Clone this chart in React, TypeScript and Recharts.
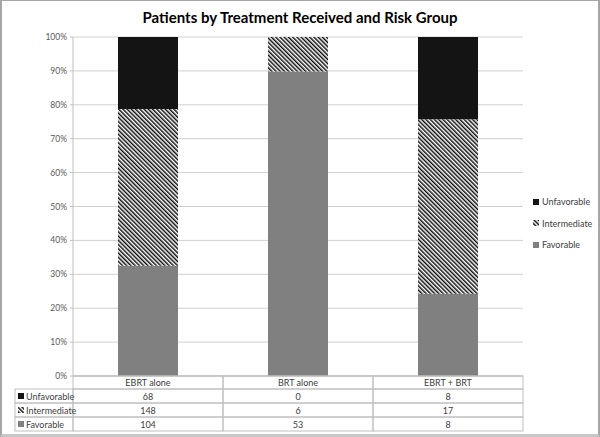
import React from 'react'
import { BarChart, Bar, XAxis, YAxis, CartesianGrid } from 'recharts'

const categories = ['EBRT alone', 'BRT alone', 'EBRT + BRT']
const unfavorable = [68, 0, 8]
const intermediate = [148, 6, 17]
const favorable = [104, 53, 8]
const yTicks = [0, 0.1, 0.2, 0.3, 0.4, 0.5, 0.6, 0.7, 0.8, 0.9, 1]

const seriesRows = [
  { key: 'unfavorable', name: 'Unfavorable', values: unfavorable, fill: '#141414' },
  { key: 'intermediate', name: 'Intermediate', values: intermediate, fill: 'url(#hatch)' },
  { key: 'favorable', name: 'Favorable', values: favorable, fill: '#808080' }
]

const data = categories.map((c, i) => ({
  name: c,
  favorable: favorable[i],
  intermediate: intermediate[i],
  unfavorable: unfavorable[i]
}))

const FONT = 'Lato, "Open Sans", sans-serif'
const BORDER = '#bfbfbf'
const TEXT = '#404040'
const COL_W = 150
const HEAD_H = 13
const ROW_H = 14
const LABEL_LEFT = 15

function TableTick(props: any) {
  const { x, y, payload } = props
  const i = categories.indexOf(payload.value)
  const left = x - COL_W / 2
  return (
    <g>
      <rect x={left} y={y} width={COL_W} height={HEAD_H} fill="none" stroke={BORDER} />
      <text x={x} y={y + 9.5} textAnchor="middle" fontSize={9} fill={TEXT} fontFamily={FONT}>
        {payload.value}
      </text>
      {seriesRows.map((s, r) => (
        <g key={s.key}>
          <rect x={left} y={y + HEAD_H + r * ROW_H} width={COL_W} height={ROW_H} fill="none" stroke={BORDER} />
          <text x={x} y={y + HEAD_H + r * ROW_H + 10.5} textAnchor="middle" fontSize={9} fill={TEXT} fontFamily={FONT}>
            {s.values[i]}
          </text>
        </g>
      ))}
      {i === 0 &&
        seriesRows.map((s, r) => (
          <g key={'lab' + s.key}>
            <rect
              x={LABEL_LEFT}
              y={y + HEAD_H + r * ROW_H}
              width={left - LABEL_LEFT}
              height={ROW_H}
              fill="none"
              stroke={BORDER}
            />
            <rect x={LABEL_LEFT + 3} y={y + HEAD_H + r * ROW_H + 4} width={6} height={6} fill={s.fill} />
            <text x={LABEL_LEFT + 11} y={y + HEAD_H + r * ROW_H + 10.5} fontSize={9} fill={TEXT} fontFamily={FONT}>
              {s.name}
            </text>
          </g>
        ))}
    </g>
  )
}

function LegendBox() {
  return (
    <div
      style={{
        position: 'absolute',
        left: 532,
        top: 191,
        fontFamily: FONT,
        fontSize: 9,
        color: TEXT
      }}
    >
      {seriesRows.map((s) => (
        <div key={s.key} style={{ display: 'flex', alignItems: 'center', height: 21.5 }}>
          <svg width={8} height={8} style={{ marginRight: 2 }}>
            <rect x={1} y={1} width={6} height={6} fill={s.fill} />
          </svg>
          <span>{s.name}</span>
        </div>
      ))}
    </div>
  )
}

export default function App() {
  return (
    <div style={{ position: 'absolute', left: 0, top: 0, width: 600, height: 437, background: '#fff' }}>
      <svg width={0} height={0} style={{ position: 'absolute' }}>
        <defs>
          <pattern id="hatch" width={3} height={3} patternUnits="userSpaceOnUse" patternTransform="rotate(-45)">
            <rect width={3} height={3} fill="#fff" />
            <line x1={0.75} y1={0} x2={0.75} y2={3} stroke="#000" strokeWidth={1.4} />
          </pattern>
        </defs>
      </svg>
      <div
        style={{
          position: 'absolute',
          left: 0,
          top: 8,
          width: 600,
          textAlign: 'center',
          fontFamily: FONT,
          fontWeight: 700,
          fontSize: 15,
          color: '#000'
        }}
      >
        Patients by Treatment Received and Risk Group
      </div>
      <BarChart
        width={600}
        height={437}
        data={data}
        stackOffset="expand"
        margin={{ top: 37, right: 77, left: 13, bottom: 0 }}
      >
        <CartesianGrid horizontal vertical={false} stroke="#d0d0d0" />
        <XAxis
          dataKey="name"
          height={61}
          tickSize={0}
          tickMargin={0}
          axisLine={{ stroke: BORDER }}
          tickLine={false}
          interval={0}
          tick={<TableTick />}
        />
        <YAxis
          width={60}
          domain={[0, 1]}
          ticks={yTicks}
          tickFormatter={(v: number) => `${Math.round(v * 100)}%`}
          tick={{ fontSize: 8.5, fill: '#595959', fontFamily: FONT }}
          tickSize={3}
          tickMargin={3}
          tickLine={{ stroke: BORDER }}
          axisLine={{ stroke: BORDER }}
        />
        <Bar dataKey="favorable" name="Favorable" stackId="a" fill="#808080" barSize={60} isAnimationActive={false} />
        <Bar dataKey="intermediate" name="Intermediate" stackId="a" fill="url(#hatch)" barSize={60} isAnimationActive={false} />
        <Bar dataKey="unfavorable" name="Unfavorable" stackId="a" fill="#141414" barSize={60} isAnimationActive={false} />
      </BarChart>
      <LegendBox />
      <div
        style={{
          position: 'absolute',
          left: 0,
          top: 0,
          width: 600,
          height: 437,
          boxSizing: 'border-box',
          borderTop: '1px solid #a6a6a6',
          borderLeft: '2px solid #a6a6a6',
          borderRight: '2px solid #a6a6a6',
          borderBottom: '3px solid #c8c8c8',
          pointerEvents: 'none'
        }}
      />
    </div>
  )
}
